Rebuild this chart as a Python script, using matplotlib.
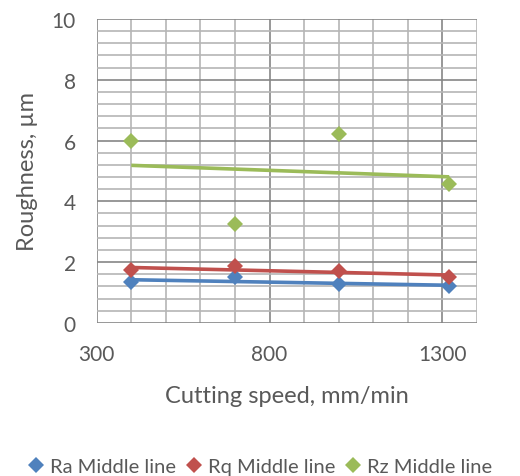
import numpy as np
import matplotlib
matplotlib.use("Agg")
import matplotlib.pyplot as plt
from matplotlib.ticker import FixedLocator
from matplotlib.lines import Line2D

plt.rcParams['font.family'] = ['Lato', 'DejaVu Sans']

# Cutting speed (mm/min) and measured roughness values (µm)
speed = [400, 700, 1000, 1320]
ra = [1.33, 1.50, 1.29, 1.20]
rq = [1.73, 1.86, 1.70, 1.51]
rz = [5.97, 3.24, 6.21, 4.57]

x_ticks = [300, 800, 1300]
y_ticks = [0, 2, 4, 6, 8, 10]

series_names = ["Ra Middle line", "Rq Middle line", "Rz Middle line"]
series_colors = ["#4F81BD", "#C0504D", "#9BBB59"]
text_color = "#595959"

fig = plt.figure(figsize=(5.2, 4.77), dpi=100)
ax = fig.add_axes([0.186, 0.321, 0.731, 0.637])

x = np.array(speed, dtype=float)
handles = []
for vals, name, col in zip([ra, rq, rz], series_names, series_colors):
    y = np.array(vals)
    # linear trend line across the measured speed range
    k, b = np.polyfit(x, y, 1)
    xs = np.array([x.min(), x.max()])
    ax.plot(xs, k * xs + b, color=col, lw=2.6, zorder=3, solid_capstyle='butt')
    ax.plot(x, y, linestyle='none', marker='D', markersize=7.8, color=col,
            markeredgewidth=0, zorder=4)
    handles.append(Line2D([], [], linestyle='none', marker='D', markersize=8,
                          color=col, markeredgewidth=0, label=name))

ax.set_xlim(300, 1400)
ax.set_ylim(0, 10)
ax.xaxis.set_major_locator(FixedLocator(x_ticks))
ax.xaxis.set_minor_locator(FixedLocator(np.arange(300, 1401, 100)))
ax.yaxis.set_major_locator(FixedLocator(y_ticks))
ax.yaxis.set_minor_locator(FixedLocator(np.arange(0, 10.01, 0.4)))

ax.grid(which='major', color='#868686', lw=1.2, zorder=1)
ax.grid(which='minor', color='#b5b5b5', lw=1.2, zorder=0)
ax.set_axisbelow(True)
for s in ax.spines.values():
    s.set_visible(False)
ax.tick_params(which='both', length=0, labelsize=15, colors=text_color)
ax.tick_params(axis='y', pad=15)
ax.tick_params(axis='x', pad=15)

ax.set_xlabel("Cutting speed, mm/min", fontsize=17, color=text_color, labelpad=15)
ax.set_ylabel("Roughness, µm", fontsize=17, color=text_color, labelpad=10)

fig.legend(handles=handles, loc='center', bbox_to_anchor=(0.5, 0.02), ncol=3,
           frameon=False, fontsize=14.5, labelcolor=text_color, handlelength=0.8,
           handletextpad=0.3, columnspacing=0.5)

fig.savefig("out.png", dpi=100, facecolor='white')
